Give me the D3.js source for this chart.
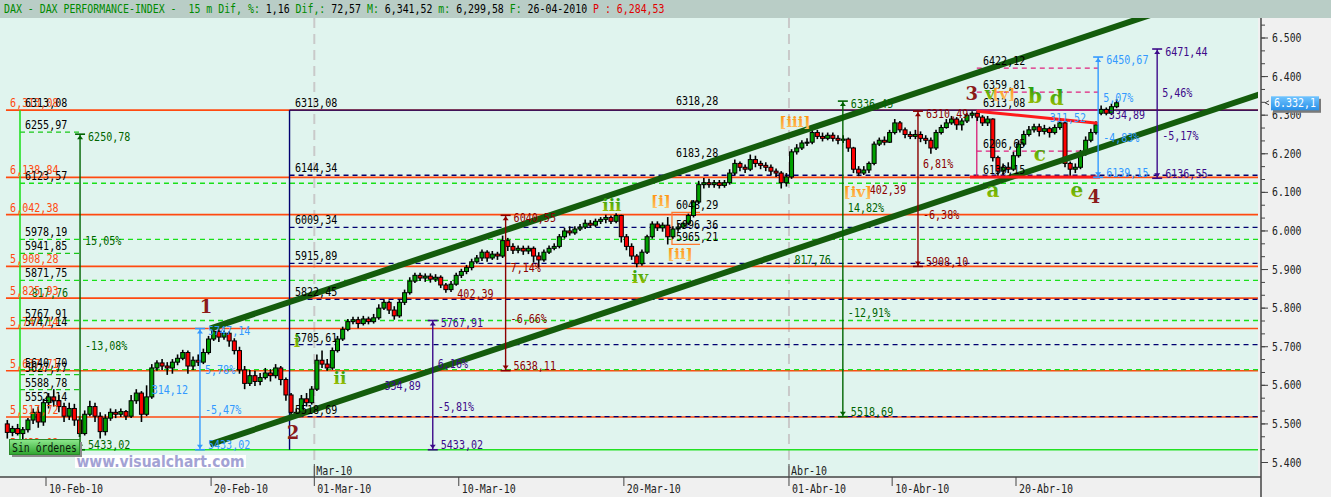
<!DOCTYPE html>
<html><head><meta charset="utf-8">
<script src="https://d3js.org/d3.v7.min.js"></script>
<style>html,body{margin:0;padding:0;background:#f0f0f0;overflow:hidden}svg{display:block}</style>
</head><body><svg id="c" width="1331" height="497"></svg>
<script>
// ---------------- DATA ----------------
const tradingDays = ["08-Feb","09-Feb","10-Feb","11-Feb","12-Feb","15-Feb","16-Feb","17-Feb","18-Feb","19-Feb","22-Feb","23-Feb","24-Feb","25-Feb","26-Feb","01-Mar","02-Mar","03-Mar","04-Mar","05-Mar","08-Mar","09-Mar","10-Mar","11-Mar","12-Mar","15-Mar","16-Mar","17-Mar","18-Mar","19-Mar","22-Mar","23-Mar","24-Mar","25-Mar","26-Mar","29-Mar","30-Mar","31-Mar","01-Apr","06-Apr","07-Apr","08-Apr","09-Apr","12-Apr","13-Apr","14-Apr","15-Apr","16-Apr","19-Apr","20-Apr","21-Apr","22-Apr","23-Apr","26-Apr"];
// four quarter-day candles per trading day
const opens = [
5500,5478,5488,5475, 5485,5510,5530,5505, 5555,5570,5560,5545, 5520,5540,5510,5475, 5525,5545,5520,5480,
5515,5530,5525,5532, 5520,5560,5580,5525, 5570,5645,5658,5650, 5645,5660,5670,5685, 5650,5665,5660,5685,
5720,5740,5725,5735, 5715,5690,5640,5605, 5625,5610,5620,5632, 5625,5645,5615,5575, 5530,5525,5565,5555,
5590,5665,5655,5645, 5690,5720,5745,5765, 5770,5760,5772,5765, 5775,5800,5815,5795, 5780,5815,5840,5870,
5885,5878,5883,5875, 5880,5860,5848,5862, 5885,5895,5905,5920, 5930,5945,5930,5940, 5935,5975,5960,5950,
5955,5948,5955,5935, 5925,5945,5955,5960, 5985,6000,5995,6005, 6010,6020,6015,6025, 6030,6035,6025,6040,
5985,5960,5935,5915, 5945,5985,6018,6008, 6015,5985,6005,6010, 6020,6040,6075,6120, 6125,6120,6125,6118,
6125,6150,6175,6165, 6160,6185,6175,6170, 6165,6155,6150,6125, 6140,6205,6215,6228, 6230,6255,6245,6240,
6248,6240,6235,6238, 6215,6160,6150,6158, 6175,6225,6235,6230, 6255,6280,6262,6250, 6245,6250,6240,6235,
6215,6255,6268,6280, 6290,6275,6285,6300, 6305,6295,6280,6290, 6190,6155,6165,6160, 6195,6225,6250,6262,
6270,6258,6265,6255, 6268,6280,6175,6160, 6165,6200,6235,6255, 6305,6315,6305,6322];
const highs = [
5510,5495,5500,5492, 5515,5540,5545,5565, 5580,5590,5575,5555, 5555,5552,5520,5535, 5560,5555,5530,5525,
5540,5538,5540,5536, 5575,5590,5585,5600, 5655,5665,5668,5660, 5668,5680,5692,5690, 5675,5680,5695,5728,
5747,5745,5742,5740, 5722,5700,5650,5640, 5638,5632,5645,5642, 5655,5650,5620,5580, 5540,5575,5580,5598,
5680,5690,5668,5698, 5728,5752,5772,5778, 5778,5780,5778,5785, 5810,5822,5820,5805, 5822,5848,5880,5892,
5892,5890,5890,5888, 5885,5865,5870,5892, 5902,5912,5928,5938, 5952,5950,5948,5946, 5988,5982,5968,5962,
5962,5962,5960,5945, 5952,5962,5968,5992, 6008,6012,6012,6018, 6030,6028,6032,6036, 6042,6040,6046,6042,
5992,5968,5940,5952, 5990,6025,6025,6022, 6036,6012,6018,6022, 6045,6080,6130,6137, 6135,6132,6132,6132,
6160,6185,6180,6172, 6198,6195,6182,6178, 6172,6162,6155,6150, 6212,6225,6235,6240, 6265,6262,6255,6255,
6255,6248,6248,6242, 6218,6168,6168,6180, 6232,6242,6245,6262, 6290,6285,6268,6258, 6262,6258,6248,6242,
6262,6275,6290,6298, 6295,6292,6305,6310, 6310,6300,6298,6292, 6195,6175,6178,6205, 6235,6260,6272,6278,
6278,6275,6270,6276, 6286,6284,6180,6175, 6210,6245,6265,6284, 6325,6320,6330,6341.52];
const lows = [
5462,5468,5470,5460, 5478,5500,5490,5495, 5540,5545,5530,5505, 5510,5495,5466,5470, 5520,5505,5462,5470,
5508,5515,5518,5510, 5515,5552,5505,5520, 5565,5638,5640,5627, 5630,5652,5665,5630, 5640,5650,5655,5680,
5715,5712,5718,5700, 5680,5630,5590,5598, 5598,5600,5615,5610, 5618,5600,5560,5520, 5518.69,5520,5545,5550,
5585,5645,5638,5640, 5685,5715,5740,5758, 5748,5755,5758,5760, 5770,5795,5785,5770, 5775,5808,5835,5865,
5870,5868,5866,5868, 5852,5840,5842,5858, 5878,5888,5898,5915, 5922,5920,5925,5925, 5930,5948,5940,5942,
5938,5940,5918,5905, 5920,5940,5950,5955, 5980,5988,5990,6000, 6005,6008,6010,6018, 6020,6018,6020,5970,
5950,5925,5906,5910, 5940,5980,6000,5998, 5965,5980,5998,6005, 6015,6035,6070,6110, 6112,6112,6110,6112,
6120,6145,6155,6150, 6155,6165,6160,6155, 6145,6140,6110,6115, 6135,6198,6210,6220, 6225,6238,6232,6235,
6232,6225,6228,6205, 6150,6142,6145,6150, 6170,6220,6222,6228, 6250,6255,6240,6238, 6238,6230,6225,6200,
6210,6250,6265,6275, 6262,6260,6280,6292, 6285,6272,6272,6180, 6137,6145,6150,6155, 6190,6220,6245,6255,
6245,6250,6242,6250, 6262,6165,6142,6150, 6160,6195,6230,6250, 6300,6299.58,6300,6318];
const closes = [
5478,5488,5475,5485, 5510,5530,5505,5555, 5570,5560,5545,5520, 5540,5510,5475,5525, 5545,5520,5480,5515,
5530,5525,5532,5520, 5560,5580,5525,5570, 5645,5658,5650,5645, 5660,5670,5685,5650, 5665,5660,5685,5720,
5740,5725,5735,5715, 5690,5640,5605,5625, 5610,5620,5632,5625, 5645,5615,5575,5530, 5525,5565,5555,5590,
5665,5655,5645,5690, 5720,5745,5765,5770, 5760,5772,5765,5775, 5800,5815,5795,5780, 5815,5840,5870,5885,
5878,5883,5875,5880, 5860,5848,5862,5885, 5895,5905,5920,5930, 5945,5930,5940,5935, 5975,5960,5950,5955,
5948,5955,5935,5925, 5945,5955,5960,5985, 6000,5995,6005,6010, 6020,6015,6025,6030, 6035,6025,6040,5985,
5960,5935,5915,5945, 5985,6018,6008,6015, 5985,6005,6010,6020, 6040,6075,6120,6125, 6120,6125,6118,6125,
6150,6175,6165,6160, 6185,6175,6170,6165, 6155,6150,6125,6140, 6205,6215,6228,6230, 6255,6245,6240,6248,
6240,6235,6238,6215, 6160,6150,6158,6175, 6225,6235,6230,6255, 6280,6262,6250,6245, 6250,6240,6235,6215,
6255,6268,6280,6290, 6275,6285,6300,6305, 6295,6280,6290,6190, 6155,6165,6160,6195, 6225,6250,6262,6270,
6258,6265,6255,6268, 6280,6175,6160,6165, 6200,6235,6255,6275, 6315,6305,6322,6332.1];

// axis
const yTickValues = [5400,5500,5600,5700,5800,5900,6000,6100,6200,6300,6400,6500];
const dateTickLabels = ["10-Feb-10","20-Feb-10","01-Mar-10","10-Mar-10","20-Mar-10","01-Abr-10","10-Abr-10","20-Abr-10"];
const dateTickDay = [0,8,13,20,28,36,41,47];          // trading-day index, 10-Feb = 0
const monthLabels = ["Mar-10","Abr-10"];
const monthDay = [13,36];

// horizontal study levels
const orangeLevels = [6313.08,6138.84,6042.38,5908.28,5825.93,5747.14,5637.71,5517.72];
const orangeLabelLevels = [6313.08,6138.84,6042.38,5908.28,5825.93,5747.14,5637.71,5517.72,5433.02];
const navyFibLevels = [6313.08,6144.34,6009.34,5915.89,5822.45,5705.61,5518.69];
const greenLongLevels = [6123.57,5978.19,5871.75,5767.91,5640.70];
const greenShortLevels = [6255.97,5941.85,5627.77,5588.78];
const baseLevel = 5433.02;
const leftBlackLevels = [6313.08,6255.97,6123.57,5978.19,5941.85,5871.75,5767.91,5747.14,5640.70,5627.77,5588.78,5552.14];
const midBlackLevels = [6318.28,6183.28,6048.29,5996.36,5965.21];
const boxDashedLevels = [6422.12,6359.81,6206.65];
const boxSolidLevel = 6313.08;
const boxLabelLevels = [6422.12,6359.81,6313.08,6206.65,6139.15];
const boxBottom = 6139.15;
const bracketLevels = [6048.29,5965.21];

// positions of studies, in trading-day index
const startDay = -1.94, greenStartDay = -1.26, shortEndDay = 1.75, navyDay = 11.8;
const leftLabelDay = -1.02, orangeLabelDay = -1.74, navyLabelDay = 12.06, midLabelDay = 30.52;
const boxDays = [45.1, 50.97], boxLabelDay = 45.4, bracketDays = [30.33, 31.69];
const monthSepDays = [13, 36];

// channel and triangle (day, price)
const channelUpper = [[7.95,5747],[58.8,6654]];
const channelLower = [[7.95,5447],[58.8,6354]];
const triangleUpper = [[45.1,6310.49],[50.97,6279]];
const triangleLower = [[44.77,6140],[51.07,6140]];

// measuring tools
const measDay    = [1.65, 7.46, 18.74, 22.27, 38.61, 42.25, 50.98, 53.84];
const measTop    = [6250.78,5747.14,5767.91,6040.55,6336.45,6310.49,6450.67,6471.44];
const measBottom = [5433.02,5433.02,5433.02,5638.11,5518.69,5908.10,6139.15,6136.55];
const measUp     = ["15,05%","5,78%","6,16%","7,14%","14,82%","6,81%","5,07%","5,46%"];
const measDown   = ["-13,08%","-5,47%","-5,81%","-6,66%","-12,91%","-6,38%","-4,83%","-5,17%"];
const measAmount = ["817,76","314,12","334,89","402,39","817,76","402,39","311,52","334,89"];
const measColor  = ["#006400","#3399ff","#3d0a8a","#8b0000","#006400","#8b0000","#3399ff","#3d0a8a"];

// wave labels
const waveNums = ["1","2","3","4"];
const waveNumPos = [[7.75,5805],[11.97,5479],[44.86,6357],[50.78,6088]];
const romanLabels = ["i","ii","iii","iv","v","a","b","c","d","e"];
const romanPos = [[12.16,5715],[14.24,5619],[27.42,6067],[28.78,5881],[45.74,6357],[45.88,6106],[47.92,6349],[48.16,6199],[48.98,6344],[49.95,6106]];
const bracketLabels = ["[i]","[ii]","[iii]","[iv]","[v]"];
const bracketPos = [[29.8,6078],[30.72,5940],[36.29,6282],[39.34,6101],[46.41,6355]];

const headerParts = ["DAX - DAX PERFORMANCE-INDEX -  15 m ","Dif, %: ","1,16 ","Dif,: ","72,57 ","M: ","6,341,52 ","m: ","6,299,58 ","F: ","26-04-2010 ","P : 6,284,53"];
const headerKinds = ["g","g","k","g","k","g","k","g","k","g","k","r"];

// ---------------- DRAW ----------------
const svg = d3.select("#c");
const W = 1331, H = 497, PR = 1258, PT = 18, PB = 477, AX = 1261;
const x = d3.scaleLinear().domain([0,47]).range([46,1016]);
const y = d3.scaleLinear().domain([5400,6500]).range([462.5,38]);
const MONO = "'DejaVu Sans Mono','Liberation Mono',monospace";
const CW = 6.05;

function label(g, px, py, s, color, o = {}) {
  const cw = o.cw === undefined ? CW : o.cw;
  const t = g.append("text").attr("x", px).attr("y", py).attr("fill", color)
    .attr("font-family", o.family || MONO).attr("font-size", o.size || 12)
    .attr("dominant-baseline", "central").text(s);
  if (o.anchor) t.attr("text-anchor", o.anchor);
  if (o.weight) t.attr("font-weight", o.weight);
  if (o.pre) t.attr("xml:space", "preserve").style("white-space", "pre");
  if (cw) t.attr("textLength", s.length * cw).attr("lengthAdjust", "spacingAndGlyphs");
  return t;
}
const fmt = v => v.toFixed(2).replace(".", ",");
const fmtO = v => { const [a, b] = v.toFixed(2).split("."); return a[0] + "," + a.slice(1) + "," + b; };

const defs = svg.append("defs");
defs.append("clipPath").attr("id", "pc").append("rect").attr("x", 0).attr("y", PT).attr("width", PR).attr("height", PB - PT);
function grad(id, c1, c2) {
  const g = defs.append("linearGradient").attr("id", id).attr("x1", 0).attr("y1", 0).attr("x2", 0).attr("y2", 1);
  g.append("stop").attr("offset", "0%").attr("stop-color", c1);
  g.append("stop").attr("offset", "100%").attr("stop-color", c2);
}
grad("gGreen", "#109a10", "#b8c400");
grad("gOrange", "#ff8a00", "#ffc870");
grad("gBtn", "#8ee88e", "#2ea52e");
grad("gBlue", "#70c4ff", "#2890e8");

// backgrounds
svg.append("rect").attr("width", W).attr("height", H).attr("fill", "#f0f0f0");
svg.append("rect").attr("x", 0).attr("y", PT).attr("width", PR).attr("height", PB - PT).attr("fill", "#e0f4ee");
svg.append("rect").attr("x", 0).attr("y", 0).attr("width", W).attr("height", PT).attr("fill", "#b9cdc6");

// header
const gh = svg.append("g");
let cum = 0;
headerParts.forEach((s, i) => {
  const col = headerKinds[i] === "g" ? "#008a00" : headerKinds[i] === "r" ? "#e00000" : "#000";
  label(gh, 4 + cum * 5.95, 9, s, col, { cw: 5.95, pre: true });
  cum += s.length;
});

const gp = svg.append("g").attr("clip-path", "url(#pc)");

// month separators
monthSepDays.forEach(d => {
  gp.append("line").attr("x1", x(d)).attr("x2", x(d)).attr("y1", PT).attr("y2", PB)
    .attr("stroke", "#c9c9c9").attr("stroke-width", 2).attr("stroke-dasharray", "10,6");
});

const hline = (d1, d2, v, col, w, dash) => {
  const l = gp.append("line").attr("x1", d1 === null ? PR : x(d1)).attr("x2", d2 === null ? PR : x(d2))
    .attr("y1", y(v)).attr("y2", y(v)).attr("stroke", col).attr("stroke-width", w);
  if (dash) l.attr("stroke-dasharray", dash);
  return l;
};
const vline = (d, v1, v2, col, w, dash) => {
  const l = gp.append("line").attr("x1", x(d)).attr("x2", x(d)).attr("y1", y(v1)).attr("y2", y(v2))
    .attr("stroke", col).attr("stroke-width", w);
  if (dash) l.attr("stroke-dasharray", dash);
  return l;
};

// orange levels
orangeLevels.forEach(v => hline(startDay, null, v, "#ff4a10", 1.6));
// green dashed levels
greenLongLevels.forEach(v => hline(greenStartDay, null, v, "#19e019", 1.3, "5,4"));
greenShortLevels.forEach(v => hline(greenStartDay, shortEndDay, v, "#19c819", 1.3, "5,4"));
hline(greenStartDay, null, baseLevel, "#22e022", 1.6);
vline(greenStartDay, orangeLevels[0], baseLevel, "#22e022", 1.6);
// navy fib
navyFibLevels.forEach((v, i) => hline(navyDay, null, v, "#000070", i === 0 ? 1.4 : 1.3, i === 0 ? null : "5,4"));
vline(navyDay, navyFibLevels[0], baseLevel, "#000070", 1.4);

// pink box
vline(boxDays[0], boxSolidLevel, boxBottom, "#d81b74", 1.3);
boxDashedLevels.forEach(v => hline(boxDays[0], boxDays[1], v, "#e0207e", 1.3, "5,4"));
hline(boxDays[0], boxDays[1], boxSolidLevel, "#e0207e", 1.4);

// orange bracket
const bx1 = x(bracketDays[0]), bx2 = x(bracketDays[1]);
gp.append("path").attr("d", `M${bx2},${y(bracketLevels[0])}H${bx1}V${y(bracketLevels[1])}H${bx2}`)
  .attr("fill", "none").attr("stroke", "#ff7a30").attr("stroke-width", 1.3);

// candles
const gc = gp.append("g");
opens.forEach((o, i) => {
  const day = Math.floor(i / 4) - 2, q = i % 4;
  const cx = x(day + (q + 0.5) / 4);
  const c = closes[i];
  gc.append("line").attr("x1", cx).attr("x2", cx).attr("y1", y(highs[i])).attr("y2", y(lows[i]))
    .attr("stroke", "#000").attr("stroke-width", 1.6);
  const top = y(Math.max(o, c)), bot = y(Math.min(o, c));
  gc.append("rect").attr("x", cx - 2).attr("y", top).attr("width", 4).attr("height", Math.max(1, bot - top))
    .attr("fill", c < o ? "#ff0000" : "#00a000").attr("stroke", "#000").attr("stroke-width", 1);
});

// channel lines
[channelUpper, channelLower].forEach(p => {
  gp.append("line").attr("x1", x(p[0][0])).attr("y1", y(p[0][1])).attr("x2", x(p[1][0])).attr("y2", y(p[1][1]))
    .attr("stroke", "#145c0c").attr("stroke-width", 6);
});
// triangle lines
[triangleUpper, triangleLower].forEach(p => {
  gp.append("line").attr("x1", x(p[0][0])).attr("y1", y(p[0][1])).attr("x2", x(p[1][0])).attr("y2", y(p[1][1]))
    .attr("stroke", "#ff1a1a").attr("stroke-width", 3);
});

// measuring tools
const gm = gp.append("g");
measDay.forEach((d, i) => {
  const cx = x(d), yt = y(measTop[i]), yb = y(measBottom[i]), col = measColor[i], h = yb - yt;
  gm.append("line").attr("x1", cx).attr("x2", cx).attr("y1", yt).attr("y2", yb).attr("stroke", col).attr("stroke-width", 1.4);
  gm.append("line").attr("x1", cx - 5).attr("x2", cx + 5).attr("y1", yt).attr("y2", yt).attr("stroke", col).attr("stroke-width", 1.6);
  gm.append("line").attr("x1", cx - 5).attr("x2", cx + 5).attr("y1", yb).attr("y2", yb).attr("stroke", col).attr("stroke-width", 1.6);
  gm.append("path").attr("d", `M${cx - 3},${yt + 5}L${cx},${yt + 1}L${cx + 3},${yt + 5}Z`).attr("fill", col);
  gm.append("path").attr("d", `M${cx - 3},${yb - 5}L${cx},${yb - 1}L${cx + 3},${yb - 5}Z`).attr("fill", col);
  label(gm, cx + 8, yt + 2.5, fmt(measTop[i]), col);
  label(gm, cx + 8, yb - 4.5, fmt(measBottom[i]), col);
  label(gm, cx + 5, yt + 0.34 * h, measUp[i], col);
  label(gm, cx + 5, yt + 0.67 * h, measDown[i], col);
  label(gm, cx - 12, yt + 0.5 * h + 1, measAmount[i], col, { anchor: "end" });
});

// level labels
const gt = gp.append("g");
orangeLabelLevels.forEach(v => label(gt, x(orangeLabelDay), y(v) - 7, fmtO(v), "#ff4a10"));
leftBlackLevels.forEach(v => label(gt, x(leftLabelDay), y(v) - 7, fmt(v), "#000"));
navyFibLevels.forEach(v => label(gt, x(navyLabelDay), y(v) - 7, fmt(v), "#000"));
midBlackLevels.forEach(v => label(gt, x(midLabelDay), y(v) - 7, fmt(v), "#000"));
boxLabelLevels.forEach(v => label(gt, x(boxLabelDay), y(v) - 7, fmt(v), "#000"));

// wave labels
waveNums.forEach((s, i) => label(gt, x(waveNumPos[i][0]), y(waveNumPos[i][1]), s, "#8b1a1a",
  { cw: 0, family: "'DejaVu Serif','Liberation Serif',serif", size: 18, weight: "bold", anchor: "middle" }));
romanLabels.forEach((s, i) => label(gt, x(romanPos[i][0]), y(romanPos[i][1]), s, "url(#gGreen)",
  { cw: 0, family: "'DejaVu Serif','Liberation Serif',serif", size: i >= 5 ? 20 : 17, weight: "bold", anchor: "middle" }));
bracketLabels.forEach((s, i) => label(gt, x(bracketPos[i][0]), y(bracketPos[i][1]), s, "url(#gOrange)",
  { cw: 0, family: "'DejaVu Serif','Liberation Serif',serif", size: 15, weight: "bold", anchor: "middle" }));

// watermark & button
svg.append("rect").attr("x", 75).attr("y", 455).attr("width", 171).attr("height", 13).attr("fill", "#ffffff");
label(svg, 160.5, 461.5, "www.visualchart.com", "#a2a2d4", { cw: 0, family: "'DejaVu Sans',sans-serif", size: 15, weight: "bold", anchor: "middle" })
  .attr("textLength", 168).attr("lengthAdjust", "spacingAndGlyphs");
svg.append("rect").attr("x", 12).attr("y", 442).attr("width", 70).attr("height", 15).attr("fill", "#8a8a8a");
svg.append("rect").attr("x", 9.5).attr("y", 439.5).attr("width", 70).attr("height", 15).attr("fill", "url(#gBtn)").attr("stroke", "#2b8a2b");
label(svg, 44.5, 447.5, "Sin órdenes", "#0a1a0a", { anchor: "middle", cw: 5.9 });

// axes frame
svg.append("line").attr("x1", 0).attr("x2", AX).attr("y1", PB).attr("y2", PB).attr("stroke", "#444").attr("stroke-width", 1.5);
svg.append("line").attr("x1", AX).attr("x2", AX).attr("y1", PT).attr("y2", H).attr("stroke", "#444").attr("stroke-width", 1.5);

// y axis
const minorTicks = d3.range(-1, 35).map(k => 5400 + k * 100 / 3).filter(v => y(v) > PT + 2 && y(v) < PB - 2);
minorTicks.forEach(v => svg.append("line").attr("x1", AX).attr("x2", AX + 4).attr("y1", y(v)).attr("y2", y(v)).attr("stroke", "#444"));
yTickValues.forEach(v => {
  svg.append("line").attr("x1", AX).attr("x2", AX + 7).attr("y1", y(v)).attr("y2", y(v)).attr("stroke", "#444");
  label(svg, AX + 11, y(v), (v / 1000).toFixed(3), "#222", { cw: 5.9 });
});
// last price box
const last = closes[closes.length - 1];
const lastStr = (() => { const s = last.toFixed(1); return s[0] + "." + s.slice(1).replace(".", ","); })();
svg.append("rect").attr("x", AX + 12).attr("y", y(last) - 4).attr("width", 48).attr("height", 14).attr("fill", "#7a7a7a");
svg.append("rect").attr("x", AX + 10).attr("y", y(last) - 6.5).attr("width", 48).attr("height", 14).attr("fill", "url(#gBlue)");
label(svg, AX + 13, y(last) + 0.5, lastStr, "#fff", { cw: 6 });
svg.append("path").attr("d", `M${AX + 8},${y(last) - 2}L${AX + 4},${y(last)}L${AX + 8},${y(last) + 2}`).attr("fill", "none").attr("stroke", "#444");

// x axis
dateTickDay.forEach((d, i) => {
  const px = x(d);
  svg.append("line").attr("x1", px).attr("x2", px).attr("y1", PB).attr("y2", PB + 9).attr("stroke", "#444");
  label(svg, px + 3, PB + 12, dateTickLabels[i], "#222", { cw: 6 });
});
monthDay.forEach((d, i) => {
  const px = x(d);
  svg.append("line").attr("x1", px).attr("x2", px).attr("y1", PB - 13).attr("y2", PB).attr("stroke", "#444");
  label(svg, px + 2, PB - 6, monthLabels[i], "#222", { cw: 6 });
});
</script></body></html>
